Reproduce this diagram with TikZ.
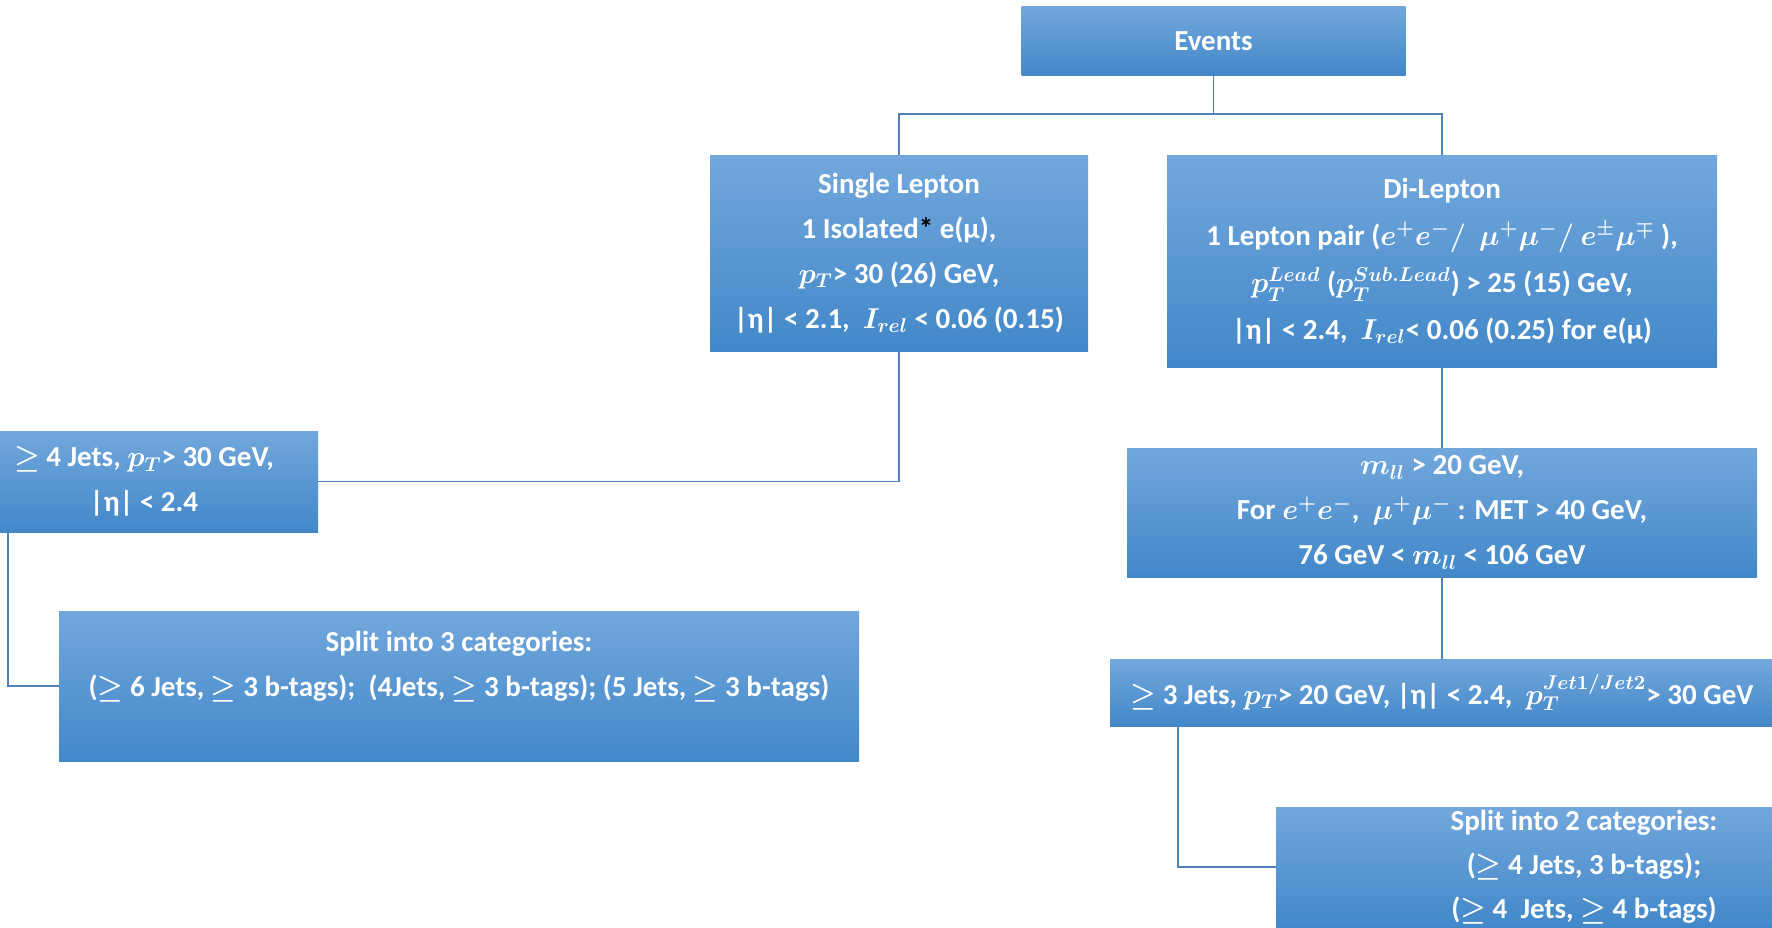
\documentclass[tikz,border=0pt]{standalone}
\usepackage{fontspec}
\setmainfont{Carlito}
\definecolor{boxtop}{RGB}{114,167,220}
\definecolor{boxmid}{RGB}{85,156,222}
\definecolor{boxbot}{RGB}{66,136,201}
\definecolor{linkc}{RGB}{79,129,189}
\begin{document}
\begin{tikzpicture}[x=0.5pt,y=-0.5pt,
  box/.style={rectangle, inner sep=0pt, top color=boxtop, middle color=boxmid, bottom color=boxbot, draw=none,
    text=white, align=center, font=\bfseries\boldmath\fontsize{14.5}{22.5}\selectfont},
  txt/.style={inner sep=0pt, text=white, align=center, font=\bfseries\boldmath\fontsize{14.5}{22.5}\selectfont},
  link/.style={draw=linkc, line width=0.8pt}]
\useasboundingbox (0,0) rectangle (1772,927);
\clip (0,0) rectangle (1772,927);

\node[box, minimum width=384*0.5pt, minimum height=69*0.5pt] (ev) at (1213.5,41) {Events};
\node[box, minimum width=378*0.5pt, minimum height=196*0.5pt] (sl) at (899,253)
  {Single Lepton\\1 Isolated\textcolor{black}{*} e(μ),\\$p_T$> 30 (26) GeV,\\|η| < 2.1,\ \ $I_{rel}$ < 0.06 (0.15)};
\node[box, minimum width=550*0.5pt, minimum height=212*0.5pt, font=\bfseries\boldmath\fontsize{14.5}{23.5}\selectfont] (dl) at (1442,261)
  {Di-Lepton\\1 Lepton pair ($e^+e^-/\ \ \mu^+\mu^-/\ e^\pm\mu^\mp$ ),\\$p_T^{Lead}$ ($p_T^{Sub.Lead}$) > 25 (15) GeV,\\|η| < 2.4,\ \ $I_{rel}$< 0.06 (0.25) for e(μ)};
\node[box, minimum width=348*0.5pt, minimum height=101*0.5pt] (j4) at (144,481.5)
  {$\geq$ 4 Jets, $p_T$> 30 GeV,\\|η| < 2.4};
\node[box, minimum width=800*0.5pt, minimum height=150*0.5pt] (s3) at (459,686) {};
\node[txt] (s3t) at (459,666.5)
  {Split into 3 categories:\\($\geq$ 6 Jets, $\geq$ 3 b-tags);\ \ (4Jets, $\geq$ 3 b-tags); (5 Jets, $\geq$ 3 b-tags)};
\node[box, minimum width=630*0.5pt, minimum height=129*0.5pt] (mll) at (1442,512.5)
  {$m_{ll}$ > 20 GeV,\\For $e^+e^-$,\ \ $\mu^+\mu^-$ : MET > 40 GeV,\\76 GeV < $m_{ll}$ < 106 GeV};
\node[box, minimum width=664*0.5pt, minimum height=67*0.5pt] (j3) at (1442,692.5)
  {$\geq$ 3 Jets, $p_T$> 20 GeV, |η| < 2.4,\ \ $p_T^{Jet1/Jet2}$> 30 GeV};
\node[box, minimum width=616*0.5pt, minimum height=120*0.5pt, font=\bfseries\boldmath\fontsize{14.5}{22}\selectfont] (s2) at (1584,867)
  {Split into 2 categories:\\($\geq$ 4 Jets, 3 b-tags);\\($\geq$ 4\ \ Jets, $\geq$ 4 b-tags)};

\coordinate (jn) at (1213.5,114);
\coordinate (c4) at (8,532);
\coordinate (c3) at (1178,726);

\draw[link] (ev.south) -- (jn);
\draw[link] (sl.north) |- (jn) -| (dl.north);
\draw[link] (sl.south) |- (j4.east);
\draw[link] (c4) |- (s3.west);
\draw[link] (dl.south) -- (mll.north);
\draw[link] (mll.south) -- (j3.north);
\draw[link] (c3) |- (s2.west);
\end{tikzpicture}
\end{document}
